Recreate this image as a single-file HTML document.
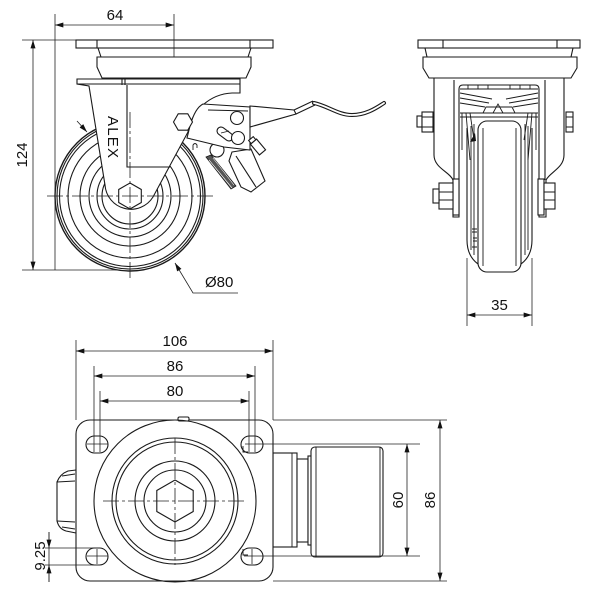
<!DOCTYPE html>
<html><head><meta charset="utf-8"><style>
html,body{margin:0;padding:0;background:#fff;}
svg{display:block;}
text{font-family:"Liberation Sans",sans-serif;fill:#111;font-size:15px;}
</style></head><body>
<svg width="600" height="610" viewBox="0 0 600 610" xmlns="http://www.w3.org/2000/svg">
<defs>
<marker id="ar" viewBox="0 0 10 6" refX="10" refY="3" markerWidth="9" markerHeight="5" markerUnits="userSpaceOnUse" orient="auto-start-reverse"><path d="M0,0 L10,3 L0,6 z" fill="#111"/></marker>
</defs>

<!-- ================= SIDE VIEW ================= -->
<g fill="none" stroke="#1a1a1a" stroke-width="1.1">
  <!-- wheel -->
  <circle cx="130" cy="196" r="75" stroke-width="1.4"/>
  <circle cx="130" cy="196" r="73"/>
  <circle cx="130" cy="196" r="70.5"/>
  <circle cx="130" cy="196" r="62"/>
  <circle cx="130" cy="196" r="50"/>
  <circle cx="130" cy="196" r="41"/>
  <circle cx="130" cy="196" r="33"/>
  <circle cx="130" cy="196" r="28"/>
  <!-- top plate -->
  <rect x="76" y="40" width="197" height="8" fill="#fff"/>
  <line x1="97" y1="40" x2="97" y2="48"/><line x1="250" y1="40" x2="250" y2="48"/>
  <path d="M98,48 L101,57 M251,48 L248,57"/>
  <path d="M97,57 L251,57 L251,67 L246,78 L102,78 L97,67 Z" fill="#fff"/>
  <!-- fork -->
  <path fill="#fff" d="M77,79 L240,79 L240,93 L232,93 A47,47 0 0 0 188,132 L153,197 A26,26 0 0 1 105,185 L89,86 L77,84 Z"/>
  <path d="M77,84 L240,84 M122,79 L122,85 M125,79 L125,85"/>
  <path d="M127,85 L127,167 L170,167"/>
  <!-- hub hex -->
  <polygon fill="#fff" points="130,183 141.3,189.5 141.3,202.5 130,209 118.7,202.5 118.7,189.5"/>
  <!-- brake parts -->
  <circle cx="217" cy="150" r="7" fill="#fff"/>
  <polygon points="206,157 211,155 236,186 231,189" fill="#555" stroke-width="0.8"/>
  <path d="M209,160 L232,188 M213,158 L234,185" stroke="#fff" stroke-width="0.6"/>
  <polygon fill="#fff" points="232,152 251,149 265,181 251,192 241,187 229,161"/>
  <path d="M236,156 L256,187"/>
  <path fill="#fff" d="M190,126 Q195,108 203,104 L250,107 L250,150 L224,147 L187,138 Z"/>
  <line x1="208" y1="110" x2="248" y2="111"/>
  <g transform="translate(258,147) rotate(-40)">
    <rect x="-4" y="-7" width="8" height="14" fill="#fff"/>
    <rect x="-3" y="-11" width="6" height="4" fill="#fff"/>
  </g>
  <polygon fill="#fff" points="192.5,122 187.8,130.2 178.2,130.2 173.5,122 178.2,113.8 187.8,113.8"/>
  <circle cx="237" cy="118" r="6.5" fill="#fff"/>
  <line x1="221" y1="131" x2="229" y2="137" stroke-width="9" stroke-linecap="round"/>
  <line x1="221" y1="131" x2="229" y2="137" stroke="#fff" stroke-width="6.8" stroke-linecap="round"/>
  <line x1="221" y1="133" x2="229" y2="131" stroke-width="0.8"/>
  <circle cx="238" cy="138" r="6.5" fill="#fff"/>
  <path d="M193,150 L193,145 Q195,142 197,145 L197,148" stroke-width="0.9"/>
  <!-- lever -->
  <polygon fill="#fff" points="250,106 294,110 296,114 250,127"/>
  <path d="M294,110 L313,101 M296,114 L315,105"/>
  <path d="M314,103 C328,106 338,115 352,115 C365,115 375,109 384,103" stroke-width="4" stroke-linecap="round"/>
  <path d="M314,103 C328,106 338,115 352,115 C365,115 375,109 384,103" stroke="#fff" stroke-width="1.8" stroke-linecap="round"/>
</g>
<!-- side view centre lines -->
<g stroke="#222" stroke-width="0.8" fill="none">
  <line x1="47" y1="196" x2="213" y2="196" stroke-dasharray="16,3,3,3"/>
  <line x1="130" y1="112" x2="130" y2="281" stroke-dasharray="16,3,3,3"/>
</g>
<text transform="translate(108,116) rotate(90)" font-size="11" textLength="42" lengthAdjust="spacing">ALEX</text>

<!-- side view dimensions -->
<g stroke="#222" stroke-width="0.8" fill="none">
  <line x1="55" y1="14" x2="55" y2="270"/>
  <line x1="174" y1="14" x2="174" y2="57"/>
  <line x1="55" y1="25" x2="174" y2="25" marker-start="url(#ar)" marker-end="url(#ar)"/>
  <line x1="22" y1="40" x2="76" y2="40"/>
  <line x1="22" y1="270" x2="120" y2="270"/>
  <line x1="33" y1="40" x2="33" y2="270" marker-start="url(#ar)" marker-end="url(#ar)"/>
  <line x1="77" y1="121" x2="87" y2="132" marker-end="url(#ar)"/>
  <polyline points="238,293 193,293 175,263" marker-end="url(#ar)"/>
</g>
<text x="115" y="20" text-anchor="middle">64</text>
<text transform="translate(27,155) rotate(-90)" text-anchor="middle">124</text>
<text x="205" y="287">Ø80</text>

<!-- ================= FRONT VIEW ================= -->
<g fill="none" stroke="#1a1a1a" stroke-width="1.1">
  <rect x="418" y="40" width="162" height="8" fill="#fff"/>
  <line x1="443" y1="40" x2="443" y2="48"/><line x1="557" y1="40" x2="557" y2="48"/>
  <path d="M425,48 L427,57 M573,48 L571,57"/>
  <path d="M423,57 L577,57 L577,68 L571,78 L429,78 L423,68 Z" fill="#fff"/>
  <!-- fork -->
  <path fill="#fff" d="M434,78 L564,78 L564,155 C564,168 550,172 546,180 L546,217 L539,217 L539,89 Q539,85 535,85 L463,85 Q459,85 459,89 L459,217 L453,217 L453,180 C450,172 434,168 434,155 Z"/>
  <line x1="454" y1="80" x2="454" y2="180"/>
  <line x1="545" y1="80" x2="545" y2="180"/>
  <!-- mechanism -->
  <path d="M460,89 L538,89 M468,85 L468,89 M478,85 L478,89 M488,85 L488,89 M510,85 L510,89 M520,85 L520,89 M530,85 L530,89" stroke-width="0.9"/>
  <path d="M460,93 L492,99 M460,98 L489,103 M460,103 L485,107 M538,93 L506,99 M538,98 L509,103 M538,103 L513,107" stroke-width="0.9"/>
  <path d="M483,113 L486,107 L512,107 L515,113" stroke-width="0.9"/>
  <path d="M493,113 L498,104 L503,113" stroke-width="0.9"/>
  <line x1="460" y1="113" x2="538" y2="113"/>
  <line x1="460" y1="117" x2="538" y2="117"/>
  <path d="M462,113 L462,150 M466,113 L470,160 M470,113 L474,140 M536,113 L536,150 M532,113 L528,160 M528,113 L524,140" stroke-width="0.9"/>
  <polygon points="470,142 475,133 476,141" fill="#111" stroke="none"/>
  <!-- wheel -->
  <path d="M467,128 L467,240 Q467,256 478,264 M532,128 L532,240 Q532,256 521,264"/>
  <path d="M471,126 L471,250 M474,124 L474,255 M528,126 L528,250 M525,124 L525,255" stroke-width="0.9"/>
  <rect x="478" y="121" width="43" height="151" rx="9" fill="#fff"/>
  <path d="M483,128 L483,266 M516,128 L516,266" stroke-width="0.9"/>
  <path d="M472,229 L477,229 M472,232 L477,232 M473,238 L477,238 M473,241 L477,241 M472,247 L477,247 M474,245 L474,250" stroke-width="0.9"/>
  <!-- bolts -->
  <rect x="417" y="116" width="5" height="11" fill="#fff"/>
  <rect x="422" y="112" width="11" height="20" fill="#fff"/>
  <path d="M422,117 L433,117 M422,127 L433,127" stroke-width="0.9"/>
  <rect x="566" y="112" width="7" height="20" fill="#fff"/>
  <path d="M566,117 L573,117 M566,127 L573,127" stroke-width="0.9"/>
  <rect x="453" y="179" width="6" height="36" fill="#fff"/>
  <rect x="439" y="183" width="14" height="26" fill="#fff"/>
  <path d="M439,192 L453,192 M439,200 L453,200" stroke-width="0.9"/>
  <rect x="433" y="189" width="6" height="14" fill="#fff"/>
  <rect x="538" y="179" width="6" height="36" fill="#fff"/>
  <rect x="544" y="183" width="11" height="26" fill="#fff"/>
  <path d="M544,192 L555,192 M544,200 L555,200" stroke-width="0.9"/>
</g>
<g stroke="#222" stroke-width="0.8" fill="none">
  <line x1="467" y1="258" x2="467" y2="326"/>
  <line x1="532" y1="258" x2="532" y2="326"/>
  <line x1="467" y1="315" x2="532" y2="315" marker-start="url(#ar)" marker-end="url(#ar)"/>
</g>
<text x="499.5" y="310" text-anchor="middle">35</text>

<!-- ================= PLAN VIEW ================= -->
<g fill="none" stroke="#1a1a1a" stroke-width="1.1">
  <!-- left lump -->
  <path fill="#fff" d="M76,470 L68,471 Q60,474 57,482 L57,521 Q59,529 66,531 L76,533"/>
  <path d="M57,482 L75,481 M57,521 L75,522 M62,476 L75,474 M62,527 L75,529" stroke-width="0.9"/>
  <!-- right neck and wheel -->
  <rect x="273" y="453" width="24" height="94" fill="#fff"/>
  <line x1="292" y1="453" x2="292" y2="547" stroke-width="0.9"/>
  <rect x="297" y="459" width="11" height="83" fill="#fff"/>
  <rect x="308" y="456" width="6" height="89" fill="#fff"/>
  <rect x="311" y="447" width="72" height="110" rx="4" fill="#fff"/>
  <path d="M316,447 L316,557 M380,447 L380,557" stroke-width="0.9"/>
  <!-- plate -->
  <rect x="76" y="420" width="197" height="161" rx="14" fill="#fff"/>
  <rect x="178" y="417" width="11" height="4" rx="1.5" fill="#fff"/>
  <circle cx="175" cy="501" r="81"/>
  <circle cx="175" cy="501" r="63"/>
  <circle cx="175" cy="501" r="59"/>
  <circle cx="175" cy="501" r="40"/>
  <circle cx="175" cy="501" r="31"/>
  <polygon points="175,480 193.2,490.5 193.2,511.5 175,522 156.8,511.5 156.8,490.5"/>
  <!-- slots -->
  <rect x="86" y="436" width="22" height="17" rx="8.5" fill="#fff"/>
  <rect x="241" y="436" width="22" height="17" rx="8.5" fill="#fff"/>
  <rect x="86" y="548" width="22" height="17" rx="8.5" fill="#fff"/>
  <rect x="241" y="548" width="22" height="17" rx="8.5" fill="#fff"/>
  <path d="M243,446 L243,452 L248,452 M243,549 L243,555 L248,555" stroke-width="0.9"/>
</g>
<g stroke="#222" stroke-width="0.8" fill="none">
  <path d="M87,444 L108,444 M87,556 L108,556 M97,549 L97,564"/>
  <path d="M244,556 L262,556 M252,549 L252,564"/>
  <line x1="103" y1="501" x2="247" y2="501" stroke-dasharray="16,3,3,3"/>
  <line x1="175" y1="438" x2="175" y2="565" stroke-dasharray="16,3,3,3"/>
  <!-- 106 / 86 / 80 -->
  <line x1="76" y1="340" x2="76" y2="420"/>
  <line x1="273" y1="340" x2="273" y2="420"/>
  <line x1="76" y1="351" x2="273" y2="351" marker-start="url(#ar)" marker-end="url(#ar)"/>
  <line x1="94" y1="366" x2="94" y2="452"/>
  <line x1="255" y1="366" x2="255" y2="452"/>
  <line x1="94" y1="376" x2="255" y2="376" marker-start="url(#ar)" marker-end="url(#ar)"/>
  <line x1="100" y1="391" x2="100" y2="452"/>
  <line x1="249" y1="391" x2="249" y2="452"/>
  <line x1="100" y1="401" x2="249" y2="401" marker-start="url(#ar)" marker-end="url(#ar)"/>
  <!-- 9.25 -->
  <line x1="45" y1="548" x2="100" y2="548"/>
  <line x1="45" y1="565" x2="100" y2="565"/>
  <line x1="49" y1="532" x2="49" y2="582"/>
  <line x1="49" y1="532" x2="49" y2="548" marker-end="url(#ar)"/>
  <line x1="49" y1="582" x2="49" y2="565" marker-end="url(#ar)"/>
  <!-- 86 / 60 right -->
  <line x1="273" y1="420" x2="447" y2="420"/>
  <line x1="273" y1="581" x2="447" y2="581"/>
  <line x1="440" y1="420" x2="440" y2="581" marker-start="url(#ar)" marker-end="url(#ar)"/>
  <line x1="245" y1="444" x2="420" y2="444"/>
  <line x1="262" y1="556" x2="420" y2="556"/>
  <line x1="407" y1="444" x2="407" y2="556" marker-start="url(#ar)" marker-end="url(#ar)"/>
</g>
<text x="175" y="346" text-anchor="middle">106</text>
<text x="175" y="371" text-anchor="middle">86</text>
<text x="175" y="396" text-anchor="middle">80</text>
<text transform="translate(45,556) rotate(-90)" text-anchor="middle">9.25</text>
<text transform="translate(435,500) rotate(-90)" text-anchor="middle">86</text>
<text transform="translate(403,500) rotate(-90)" text-anchor="middle">60</text>
</svg>
</body></html>
